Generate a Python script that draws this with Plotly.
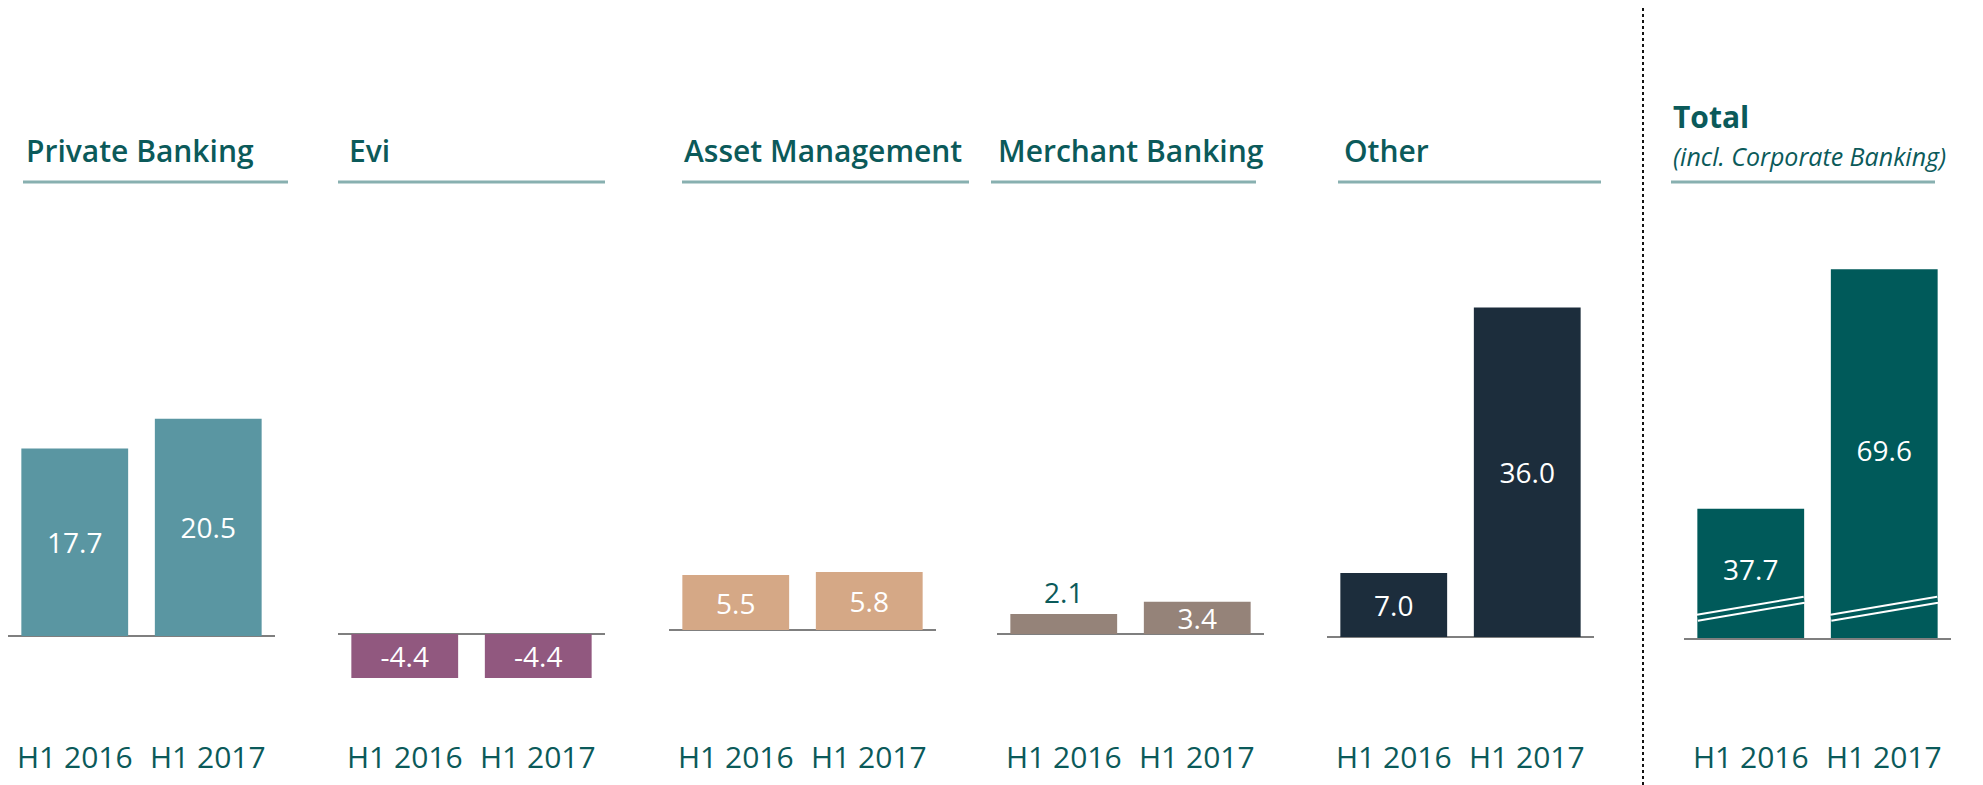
import plotly.graph_objects as go

# the page body keeps its default 8px margin, so the figure is drawn 8px in
PAGE_W, PAGE_H, PAD = 1983, 785, 8
W, H = PAGE_W - PAD, PAGE_H - PAD

periods = ["H1 2016", "H1 2017"]
segments = ["Private Banking", "Evi", "Asset Management", "Merchant Banking", "Other", "Total"]
private_banking = [17.7, 20.5]
evi = [-4.4, -4.4]
asset_management = [5.5, 5.8]
merchant_banking = [2.1, 3.4]
other = [7.0, 36.0]
total = [37.7, 69.6]
values = [private_banking, evi, asset_management, merchant_banking, other, total]

colors = ["#5a96a2", "#91587f", "#d5a886", "#958379", "#1c2d3c", "#005a5a"]
TEAL = "#0b5a5a"
RULE = "#88b0b0"
GREY = "#7f7f7f"
FONT = "Open Sans"

# pixel geometry per panel (screen coords): baseline left, baseline y, px per unit, title x, underline x0/x1
panels = [
    (8, 636, 10.6, 24, 23, 288),
    (338, 634, 10.0, 347, 338, 605),
    (669, 630, 10.0, 682, 682, 969),
    (997, 634, 9.5, 996, 991, 1256),
    (1327, 637, 9.15, 1342, 1338, 1601),
    (1684, 638, 7.51, 1671, 1671, 1935),
]
PANEL_W = 267
TOP, BOTTOM = 200, 700
TOTAL_FLOOR = 20.5      # the total panel uses a broken axis
BREAK = (2.7, 5.1)      # break mark, units above the floor


def px(x):
    return (x - PAD) / W


def py(y):
    return 1 - (y - PAD) / H


fig = go.Figure()
layout = {}
shapes = []
annotations = []

for n, (seg, vals, col, p) in enumerate(zip(segments, values, colors, panels), start=1):
    left, base, k, tx, u0, u1 = p
    is_total = seg == "Total"
    xa = dict(domain=[px(left), px(left + PANEL_W)], anchor=f"y{n}", range=[-0.5, 1.5],
              showticklabels=False, showgrid=False, zeroline=False, fixedrange=True)
    if is_total:
        xa.update(showline=True, linecolor=GREY, linewidth=2)
        ya = dict(domain=[py(base), py(TOP)], range=[TOTAL_FLOOR, TOTAL_FLOOR + (base - TOP) / k],
                  showticklabels=False, showgrid=False, zeroline=False, fixedrange=True)
    else:
        ya = dict(domain=[py(BOTTOM), py(TOP)], range=[-(BOTTOM - base) / k, (base - TOP) / k],
                  showticklabels=False, showgrid=False, zeroline=True, zerolinecolor=GREY,
                  zerolinewidth=2, fixedrange=True)
    layout[f"xaxis{n}" if n > 1 else "xaxis"] = xa
    layout[f"yaxis{n}" if n > 1 else "yaxis"] = ya

    labels = [f"{v:.1f}" for v in vals]
    if seg == "Merchant Banking":
        pos = ["outside", "inside"]
    elif is_total:
        pos = "none"
    else:
        pos = "inside"
    fig.add_trace(go.Bar(
        x=periods, y=vals, xaxis=f"x{n}", yaxis=f"y{n}", width=0.8,
        marker=dict(color=col, line=dict(width=0)),
        text=labels, textposition=pos, textangle=0, insidetextanchor="middle",
        constraintext="none", cliponaxis=False,
        insidetextfont=dict(family=FONT, size=28, color="white"),
        outsidetextfont=dict(family=FONT, size=28, color=TEAL),
        hoverinfo="x+y", name=seg,
    ))

    if is_total:
        fig.add_trace(go.Scatter(
            x=periods, y=[(TOTAL_FLOOR + v) / 2 for v in vals], xaxis=f"x{n}", yaxis=f"y{n}",
            mode="text", text=labels, textfont=dict(family=FONT, size=28, color="white"),
            hoverinfo="skip",
        ))
        for j in range(len(periods)):
            for w, c in ((8, "white"), (4, col)):
                shapes.append(dict(type="line", xref=f"x{n}", yref=f"y{n}",
                                   x0=j - 0.4, x1=j + 0.4,
                                   y0=TOTAL_FLOOR + BREAK[0], y1=TOTAL_FLOOR + BREAK[1],
                                   line=dict(color=c, width=w)))
        annotations.append(dict(text="<b>Total</b>", x=px(tx), y=py(117), xref="paper", yref="paper",
                                xanchor="left", yanchor="middle", showarrow=False,
                                font=dict(family=FONT, size=30, color=TEAL)))
        annotations.append(dict(text="<i>(incl. Corporate Banking)</i>", x=px(tx), y=py(156),
                                xref="paper", yref="paper", xanchor="left", yanchor="middle",
                                showarrow=False, font=dict(family=FONT, size=25, color=TEAL)))
    else:
        annotations.append(dict(text=seg, x=px(tx), y=py(150), xref="paper", yref="paper",
                                xanchor="left", yanchor="middle", showarrow=False,
                                font=dict(family=FONT, size=30, color=TEAL, weight=600)))

    # rule under the heading
    shapes.append(dict(type="line", xref="paper", yref="paper", x0=px(u0), x1=px(u1),
                       y0=py(182), y1=py(182), line=dict(color=RULE, width=3)))

    for per in periods:
        annotations.append(dict(text=per, x=per, xref=f"x{n}", y=py(756), yref="paper",
                                xanchor="center", yanchor="middle", showarrow=False,
                                font=dict(family=FONT, size=30, color=TEAL)))

# dotted separator before the total panel
shapes.append(dict(type="line", xref="paper", yref="paper", x0=px(1643), x1=px(1643),
                   y0=py(PAGE_H), y1=py(0),
                   line=dict(color="#111111", width=2, dash="dot")))

fig.update_layout(
    **layout,
    width=W, height=H,
    margin=dict(l=0, r=0, t=0, b=0),
    paper_bgcolor="white", plot_bgcolor="white",
    showlegend=False,
    shapes=shapes,
    annotations=annotations,
    font=dict(family=FONT),
)

fig.write_html("out.html")
